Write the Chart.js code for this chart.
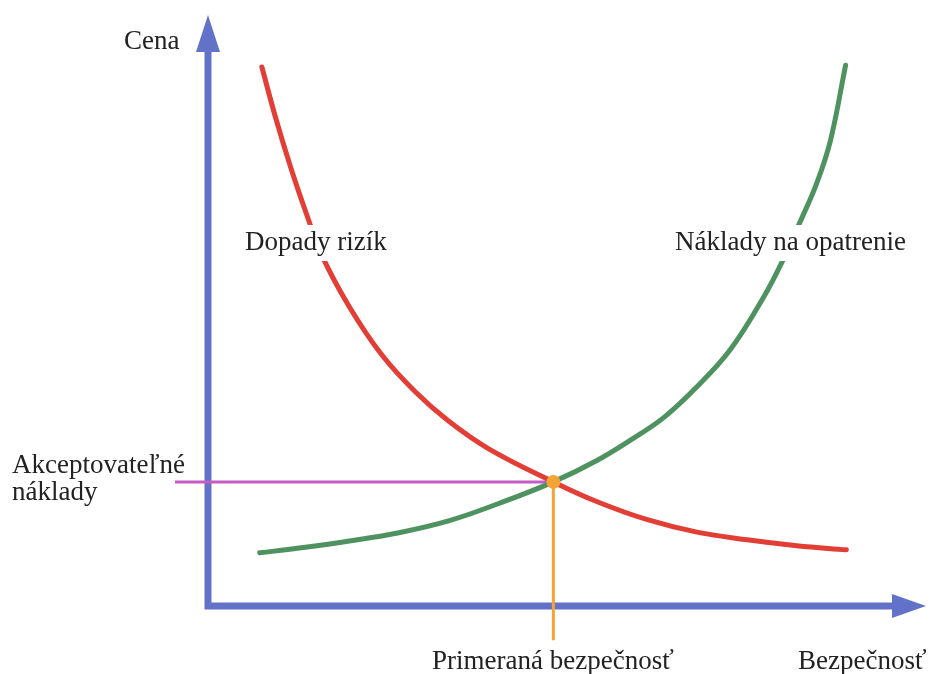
<!DOCTYPE html>
<html>
<head>
<meta charset="utf-8">
<script src="https://cdn.jsdelivr.net/npm/chart.js@4/dist/chart.umd.min.js"></script>
<style>
html,body{margin:0;padding:0;background:#fff;}
#wrap{width:933px;height:674px;position:relative;}
</style>
</head>
<body>
<div id="wrap"><canvas id="c"></canvas></div>
<script>
// Data (arbitrary units: x = Bezpečnosť 0..10, y = Cena 0..10)
const riskX = [0.75, 0.94, 1.16, 1.39, 1.59, 1.97, 2.42, 2.89, 3.35, 3.91, 4.81, 5.43, 6.12, 6.81, 7.51, 8.20, 8.89];
const riskY = [9.12, 8.27, 7.39, 6.57, 5.92, 5.06, 4.25, 3.62, 3.13, 2.66, 2.10, 1.76, 1.46, 1.25, 1.12, 1.02, 0.95];
const costX = [0.72, 1.27, 1.97, 2.66, 3.35, 4.04, 4.81, 5.43, 5.89, 6.36, 6.81, 7.27, 7.74, 8.03, 8.24, 8.48, 8.67, 8.88];
const costY = [0.90, 0.98, 1.10, 1.24, 1.44, 1.73, 2.10, 2.47, 2.81, 3.20, 3.71, 4.33, 5.23, 5.91, 6.48, 7.16, 7.88, 9.15];
const optimum = {x: 4.81, y: 2.10};
const acceptLineX = [-0.46, 4.81];
const adequateLineY = [2.10, -0.58];
const labels = {
  yAxis: "Cena",
  xAxis: "Bezpečnosť",
  risk: "Dopady rizík",
  cost: "Náklady na opatrenie",
  accept1: "Akceptovateľné",
  accept2: "náklady",
  adequate: "Primeraná bezpečnosť"
};

const BLUE = "rgb(98,114,200)";
const RED = "rgb(226,62,54)";
const GREEN = "rgb(78,146,96)";
const PURPLE = "rgb(196,92,196)";
const ORANGE = "rgb(242,164,52)";
const FONT = "27px 'Liberation Serif', 'DejaVu Serif', serif";

const zip = (xs, ys) => xs.map((x, i) => ({x, y: ys[i]}));

const decor = {
  id: "decor",
  beforeDatasetsDraw(chart) {
    const {ctx, scales: {x, y}} = chart;
    const x0 = x.getPixelForValue(0), y0 = y.getPixelForValue(0);
    const xTip = x.getPixelForValue(10), yTip = y.getPixelForValue(10);
    ctx.save();
    ctx.strokeStyle = BLUE; ctx.fillStyle = BLUE; ctx.lineWidth = 7;
    ctx.lineCap = "butt";
    ctx.beginPath();
    ctx.moveTo(x0, yTip + 30);
    ctx.lineTo(x0, y0);
    ctx.lineTo(xTip - 30, y0);
    ctx.stroke();
    ctx.beginPath();
    ctx.moveTo(x0, yTip);
    ctx.lineTo(x0 - 12, yTip + 37);
    ctx.lineTo(x0 + 12, yTip + 37);
    ctx.closePath(); ctx.fill();
    ctx.beginPath();
    ctx.moveTo(xTip, y0);
    ctx.lineTo(xTip - 34, y0 - 12);
    ctx.lineTo(xTip - 34, y0 + 12);
    ctx.closePath(); ctx.fill();
    ctx.restore();
  },
  afterDatasetsDraw(chart) {
    const {ctx} = chart;
    ctx.save();
    ctx.font = FONT;
    ctx.textBaseline = "middle";
    const put = (t, px, py, bg) => {
      const w = ctx.measureText(t).width;
      if (bg) { ctx.fillStyle = "#fff"; ctx.fillRect(px - 6, py - 18, w + 12, 36); }
      ctx.fillStyle = "#222";
      ctx.fillText(t, px, py);
    };
    put(labels.yAxis, 124, 42, false);
    put(labels.risk, 245, 243, true);
    put(labels.cost, 675, 243, true);
    put(labels.accept1, 12, 466, false);
    put(labels.accept2, 12, 493, false);
    put(labels.adequate, 432, 662, false);
    put(labels.xAxis, 798, 662, false);
    ctx.restore();
  }
};

new Chart(document.getElementById("c"), {
  type: "line",
  data: {
    datasets: [
      {data: [optimum], showLine: false, pointRadius: 7, pointBackgroundColor: ORANGE, pointBorderColor: ORANGE, pointBorderWidth: 0, clip: false, order: 0},
      {data: zip(riskX, riskY), borderColor: RED, borderWidth: 5, pointRadius: 0, tension: 0.4, borderCapStyle: "round", clip: false, order: 1},
      {data: zip(costX, costY), borderColor: GREEN, borderWidth: 5, pointRadius: 0, tension: 0.4, borderCapStyle: "round", clip: false, order: 1},
      {data: zip(acceptLineX, [optimum.y, optimum.y]), borderColor: PURPLE, borderWidth: 3, pointRadius: 0, clip: false, tension: 0, order: 2},
      {data: zip([optimum.x, optimum.x], adequateLineY), borderColor: ORANGE, borderWidth: 3, pointRadius: 0, clip: false, tension: 0, order: 2}
    ]
  },
  options: {
    responsive: true,
    maintainAspectRatio: false,
    animation: false,
    layout: {padding: {left: 208, right: 3, top: 15, bottom: 68}},
    plugins: {legend: {display: false}, tooltip: {enabled: false}},
    scales: {
      x: {type: "linear", min: 0, max: 10, display: false},
      y: {type: "linear", min: 0, max: 10, display: false}
    }
  },
  plugins: [decor]
});
</script>
</body>
</html>
